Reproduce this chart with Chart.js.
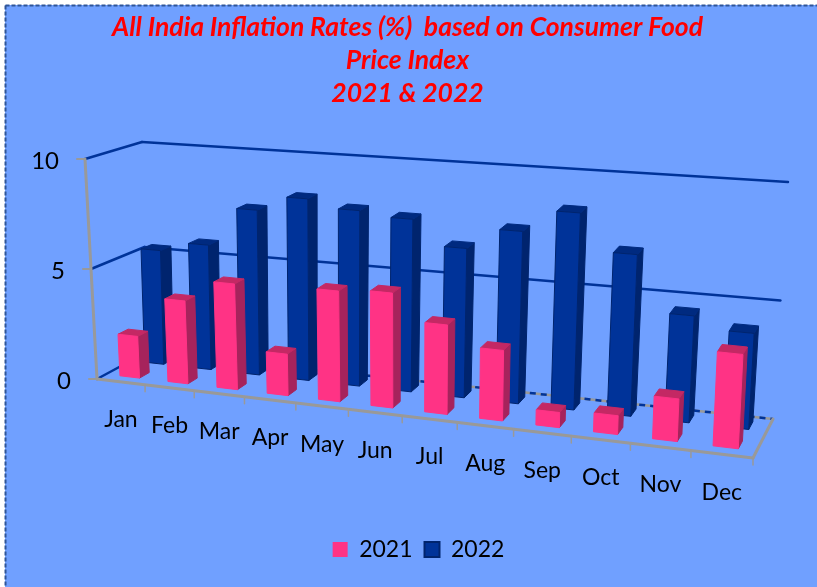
<!DOCTYPE html>
<html>
<head>
<meta charset="utf-8">
<style>html,body{margin:0;padding:0;background:#fff}canvas{display:block}</style>
<script src="https://cdn.jsdelivr.net/npm/chart.js@4"></script>
</head>
<body>
<canvas id="c" width="817" height="587"></canvas>
<script>
const categories = ["Jan","Feb","Mar","Apr","May","Jun","Jul","Aug","Sep","Oct","Nov","Dec"];
const values2021 = [1.9,3.75,4.75,1.85,4.9,5.05,3.9,3.05,0.65,0.8,1.8,3.95];
const values2022 = [5.3,5.75,7.55,8.25,7.9,7.7,6.6,7.55,8.55,6.95,4.55,4.05];
const yTicks = [0,5,10];
const titleLines = ["All India Inflation Rates (%)  based on Consumer Food","Price Index","2021 & 2022"];

// perspective box of the plot: [front/back][left/right] at floor and top
const box = {
  f0:[97,379], f1:[753,458], b0:[147,352], b1:[773,419],
  tf0:[85,159], tf1:[765,218], tb0:[142,142], tb1:[788,182]
};
const K = 0.87;
const warp = u => K*u/(1+(K-1)*u);
const mix = (a,b,t) => [a[0]+(b[0]-a[0])*t, a[1]+(b[1]-a[1])*t];
function P(u,d,v){
  const w = warp(u);
  const floor = mix(mix(box.f0,box.f1,w), mix(box.b0,box.b1,w), d);
  const top = mix(mix(box.tf0,box.tf1,w), mix(box.tb0,box.tb1,w), d);
  return mix(floor,top,v);
}
const rows = [{d0:0.18,d1:0.38},{d0:0.68,d1:0.88}];
const faces = [
  {front:"#FF3385",side:"#A6235C",top:"#C42864",edge:null},
  {front:"#003399",side:"#00246E",top:"#002A80",edge:"#00246E"}
];
const BAR = 0.41;

function poly(ctx,pts,fill,edge){
  ctx.beginPath();
  pts.forEach((p,i)=> i?ctx.lineTo(p[0],p[1]):ctx.moveTo(p[0],p[1]));
  ctx.closePath();
  ctx.fillStyle=fill; ctx.fill();
  ctx.lineWidth=1; ctx.strokeStyle=edge||fill; ctx.stroke();
}
function seg(ctx,a,b,color,w,dash){
  ctx.beginPath(); ctx.moveTo(a[0],a[1]); ctx.lineTo(b[0],b[1]);
  ctx.strokeStyle=color; ctx.lineWidth=w; ctx.setLineDash(dash||[]); ctx.stroke(); ctx.setLineDash([]);
}
const GRID="#003399", AXIS="#999999";
const frac = (sc,val)=> (sc.bottom-sc.getPixelForValue(val))/(sc.bottom-sc.top);
const ufrac = (sc,i)=> (sc.getPixelForValue(i)-sc.left)/(sc.right-sc.left);

const scene = {
  id:"scene",
  beforeDraw(chart){
    const {ctx,width,height,scales}=chart;
    ctx.save();
    ctx.fillStyle="#fff"; ctx.fillRect(0,0,width,height);
    ctx.fillStyle="#70A0FF"; ctx.fillRect(5,5,width-5,height-5);
    seg(ctx,[5.5,5.5],[width,5.5],"#2F5597",2,[4,2]);
    seg(ctx,[5.5,5.5],[5.5,height],"#2F5597",2,[4,2]);
    ctx.restore();
    const place=(item,x,y,align)=>{
      item.options.translation=[x,y];
      item.options.textAlign=align;
      item.options.textBaseline="middle";
      item.textOffset=0;
    };
    scales.x.getLabelItems(chart.chartArea).forEach((it,i)=>{
      const p=P(ufrac(scales.x,i),0,0);
      place(it,p[0],p[1]+38,"center");
    });
    scales.y.getLabelItems(chart.chartArea).forEach((it,i)=>{
      const p=P(0,0,frac(scales.y,scales.y.ticks[i].value));
      place(it,p[0]-26,p[1]+2,"right");
    });
    const lg=chart.legend;
    lg.left=20; lg.right=817; lg.top=526;
  },
  beforeDatasetsDraw(chart){
    const {ctx,scales}=chart;
    ctx.save();
    ctx.lineCap="round";
    // walls
    scales.y.ticks.forEach(t=>{
      const v=frac(scales.y,t.value);
      if(t.value===0){
        seg(ctx,P(0,1,0),P(1,1,0),AXIS,2.5);
        seg(ctx,P(0,0,0),P(0,1,0),GRID,2.5);
        ctx.lineCap="butt";
        seg(ctx,P(0,1,0),P(1,1,0),GRID,2.5,[6,5]);
        ctx.lineCap="round";
      } else {
        seg(ctx,P(0,0,v),P(0,1,v),GRID,2.5);
        seg(ctx,P(0,1,v),P(1,1,v),GRID,2.5);
      }
      const a=P(0,0,v);
      seg(ctx,[a[0]-8,a[1]],a,AXIS,2);
    });
    // axes
    seg(ctx,P(0,0,1),P(0,0,0),AXIS,3);
    seg(ctx,P(0,0,0),P(1,0,0),AXIS,3);
    seg(ctx,P(1,0,0),P(1,1,0),AXIS,3);
    // tick marks between categories
    const n=categories.length;
    for(let i=1;i<=n;i++){
      const a=P(i/n,0,0);
      seg(ctx,a,[a[0],a[1]+7],AXIS,1.5);
    }
    ctx.restore();
  },
  beforeDatasetDraw(chart,args){
    const {ctx,scales}=chart;
    const idx=args.index, ds=chart.data.datasets[idx], r=rows[idx], f=faces[idx];
    const slot=1/categories.length;
    ctx.save();
    ds.data.forEach((val,i)=>{
      const uc=ufrac(scales.x,i), u0=uc-slot*BAR/2, u1=uc+slot*BAR/2, v=frac(scales.y,val);
      poly(ctx,[P(u1,r.d0,0),P(u1,r.d1,0),P(u1,r.d1,v),P(u1,r.d0,v)],f.side);
      poly(ctx,[P(u0,r.d0,v),P(u1,r.d0,v),P(u1,r.d1,v),P(u0,r.d1,v)],f.top);
      poly(ctx,[P(u0,r.d0,0),P(u1,r.d0,0),P(u1,r.d0,v),P(u0,r.d0,v)],f.front,f.edge);
    });
    ctx.restore();
    return false;
  }
};

new Chart(document.getElementById("c"),{
  type:"bar",
  data:{labels:categories,datasets:[
    {label:"2021",data:values2021,backgroundColor:"#FF3385",borderColor:"#FF3385",borderWidth:0},
    {label:"2022",data:values2022,backgroundColor:"#003399",borderColor:"#00246E",borderWidth:2}
  ]},
  plugins:[scene],
  options:{
    responsive:false,
    animation:false,
    events:[],
    layout:{padding:{left:0,right:2,top:0,bottom:0}},
    plugins:{
      tooltip:{enabled:false},
      title:{display:true,text:titleLines,color:"#FF0000",padding:{top:11,bottom:10},
        font:{family:"Lato",size:26.5,weight:"bold",style:"italic",lineHeight:33/26.5}},
      legend:{display:true,position:"bottom",
        labels:{color:"#000",boxWidth:15,boxHeight:15,padding:12,font:{family:"Lato",size:23}}}
    },
    scales:{
      x:{grid:{display:false},border:{display:false},
        ticks:{mirror:true,autoSkip:false,maxRotation:0,color:"#000",font:{family:"Lato",size:23}}},
      y:{min:0,max:10,grid:{display:false},border:{display:false},
        afterBuildTicks(s){s.ticks=yTicks.map(value=>({value}));},
        ticks:{mirror:true,color:"#000",font:{family:"Lato",size:24}}}
    }
  }
});
</script>
</body>
</html>
